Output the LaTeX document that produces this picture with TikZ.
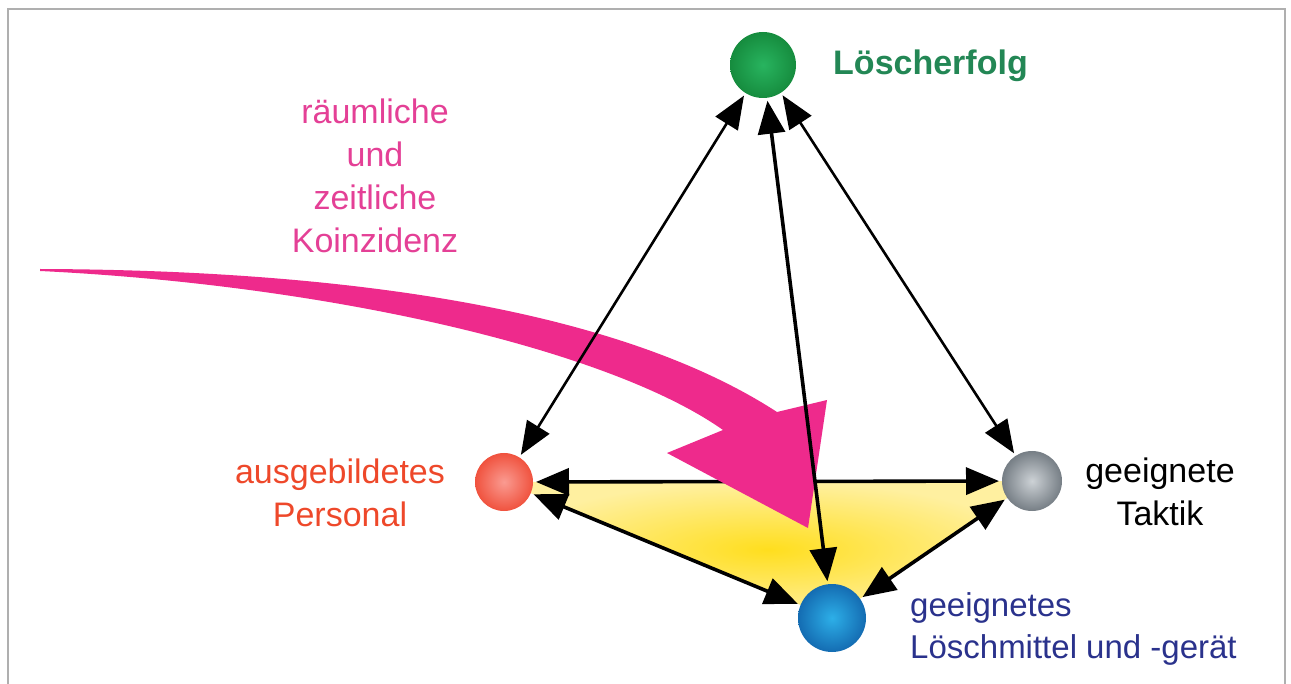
\documentclass[tikz,border=0pt]{standalone}
\usepackage{fontspec}
\setmainfont{Liberation Sans}
\usetikzlibrary{arrows.meta}
\definecolor{bordergray}{RGB}{175,175,175}
\definecolor{pinkarrow}{RGB}{238,42,140}
\definecolor{pinktext}{RGB}{228,64,150}
\definecolor{greentext}{RGB}{35,135,85}
\definecolor{redtext}{RGB}{238,72,42}
\definecolor{bluetext}{RGB}{42,50,140}
\definecolor{greenout}{RGB}{22,140,62}
\definecolor{greenin}{RGB}{40,180,95}
\definecolor{redout}{RGB}{240,82,62}
\definecolor{redin}{RGB}{250,155,145}
\definecolor{grayout}{RGB}{118,126,133}
\definecolor{grayin}{RGB}{205,210,214}
\definecolor{blueout}{RGB}{20,108,178}
\definecolor{bluein}{RGB}{45,175,232}
\definecolor{yellowin}{RGB}{255,222,30}
\definecolor{yellowout}{RGB}{255,240,160}
\pgfdeclarelayer{back}
\pgfsetlayers{back,main}
\tikzset{
  ball/.style={circle, draw=none, minimum size=#1, inner sep=0pt, outer sep=3pt},
  thinbi/.style={{Triangle[length=33pt,width=26pt]}-{Triangle[length=33pt,width=26pt]}, line width=2.6pt},
  thickbi/.style={{Triangle[length=33pt,width=27pt]}-{Triangle[length=33pt,width=27pt]}, line width=3.6pt},
  lbl/.style={font=\fontsize{34}{43}\selectfont, align=center, inner sep=0pt}
}
\begin{document}
\begin{tikzpicture}[x=1pt,y=-1pt]
\useasboundingbox (0,0) rectangle (1291,684);
\draw[bordergray, line width=2.5pt] (8,684) -- (8,9) -- (1285,9) -- (1285,684);

% spheres
\node[ball=66, shade, inner color=greenin, outer color=greenout] (g) at (763,65) {};
\node[ball=58, shade, inner color=redin, outer color=redout] (r) at (504,482) {};
\node[ball=60, shade, inner color=grayin, outer color=grayout] (t) at (1032,481) {};
\node[ball=68, shade, inner color=bluein, outer color=blueout] (b) at (832,618) {};

% yellow triangle and red-gray arrow behind
\begin{pgfonlayer}{back}
\shade[inner color=yellowin, outer color=yellowout] (r.center) -- (t.center) -- (b.center) -- cycle;
\draw[thickbi] (r) -- (t);
\end{pgfonlayer}

% magenta arrow
\fill[pinkarrow] (40,269) .. controls (350,270) and (620,310) .. (777,412)
  -- (827,400) -- (808,528) -- (667,453) -- (723,430)
  .. controls (610,350) and (330,285) .. (40,271) -- cycle;

% arrows
\draw[thinbi] (g) -- (r);
\draw[thinbi] (g) -- (t);
\draw[thickbi] (g) -- (b);
\draw[thickbi] (r) -- (b);
\draw[thickbi] (t) -- (b);

% labels
\node[lbl, font=\fontsize{34}{43}\selectfont\bfseries, text=greentext, anchor=west] (lg) at (833,66) {Löscherfolg};
\node[lbl, text=pinktext] (lk) at (375,176) {räumliche\\und\\zeitliche\\Koinzidenz};
\node[lbl, text=redtext] (lr) at (340,493) {ausgebildetes\\Personal};
\node[lbl, text=black] (lt) at (1160,492) {geeignete\\Taktik};
\node[lbl, font=\fontsize{33}{42}\selectfont, text=bluetext, align=left, anchor=west] (lb) at (910,629) {geeignetes\\Löschmittel und -gerät};
\end{tikzpicture}
\end{document}
